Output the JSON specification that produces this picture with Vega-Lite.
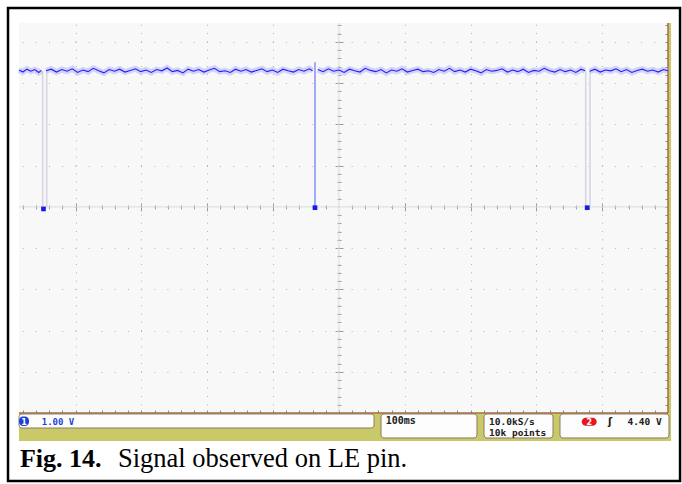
{
  "$schema": "https://vega.github.io/schema/vega-lite/v6.json",
  "width": 649,
  "height": 390,
  "autosize": "none",
  "padding": {"left": 19, "top": 23, "right": 14, "bottom": 71},
  "background": "white",
  "config": {"view": {"fill": "#f8f8f8", "stroke": null}},
  "datasets": {
    "trace": [
      {"t":-486,"v":3.32,"s":"a"},{"t":-480,"v":3.27,"s":"a"},{"t":-474,"v":3.34,"s":"a"},{"t":-468,"v":3.29,"s":"a"},{"t":-462,"v":3.33,"s":"a"},{"t":-456,"v":3.26,"s":"a"},{"t":-452,"v":3.31,"s":"a"},
      {"t":-445,"v":3.30,"s":"b"},{"t":-437,"v":3.34,"s":"b"},{"t":-429,"v":3.27,"s":"b"},{"t":-421,"v":3.33,"s":"b"},{"t":-413,"v":3.29,"s":"b"},{"t":-405,"v":3.35,"s":"b"},{"t":-397,"v":3.26,"s":"b"},{"t":-389,"v":3.32,"s":"b"},{"t":-381,"v":3.28,"s":"b"},{"t":-373,"v":3.36,"s":"b"},{"t":-365,"v":3.30,"s":"b"},{"t":-357,"v":3.25,"s":"b"},{"t":-349,"v":3.33,"s":"b"},{"t":-341,"v":3.29,"s":"b"},{"t":-333,"v":3.34,"s":"b"},{"t":-325,"v":3.27,"s":"b"},{"t":-317,"v":3.31,"s":"b"},{"t":-309,"v":3.35,"s":"b"},{"t":-301,"v":3.28,"s":"b"},{"t":-293,"v":3.32,"s":"b"},{"t":-285,"v":3.26,"s":"b"},{"t":-277,"v":3.33,"s":"b"},{"t":-269,"v":3.30,"s":"b"},{"t":-261,"v":3.37,"s":"b"},{"t":-253,"v":3.28,"s":"b"},{"t":-245,"v":3.31,"s":"b"},{"t":-237,"v":3.25,"s":"b"},{"t":-229,"v":3.34,"s":"b"},{"t":-221,"v":3.29,"s":"b"},{"t":-213,"v":3.33,"s":"b"},{"t":-205,"v":3.27,"s":"b"},{"t":-197,"v":3.32,"s":"b"},{"t":-189,"v":3.36,"s":"b"},{"t":-181,"v":3.28,"s":"b"},{"t":-173,"v":3.30,"s":"b"},{"t":-165,"v":3.26,"s":"b"},{"t":-157,"v":3.34,"s":"b"},{"t":-149,"v":3.29,"s":"b"},{"t":-141,"v":3.33,"s":"b"},{"t":-133,"v":3.27,"s":"b"},{"t":-125,"v":3.31,"s":"b"},{"t":-117,"v":3.35,"s":"b"},{"t":-109,"v":3.28,"s":"b"},{"t":-101,"v":3.32,"s":"b"},{"t":-93,"v":3.26,"s":"b"},{"t":-85,"v":3.34,"s":"b"},{"t":-77,"v":3.30,"s":"b"},{"t":-69,"v":3.27,"s":"b"},{"t":-61,"v":3.33,"s":"b"},{"t":-53,"v":3.29,"s":"b"},{"t":-45,"v":3.35,"s":"b"},{"t":-40,"v":3.30,"s":"b"},
      {"t":-32,"v":3.33,"s":"c"},{"t":-24,"v":3.28,"s":"c"},{"t":-16,"v":3.35,"s":"c"},{"t":-8,"v":3.29,"s":"c"},{"t":0,"v":3.32,"s":"c"},{"t":8,"v":3.26,"s":"c"},{"t":16,"v":3.34,"s":"c"},{"t":24,"v":3.30,"s":"c"},{"t":32,"v":3.27,"s":"c"},{"t":40,"v":3.36,"s":"c"},{"t":48,"v":3.31,"s":"c"},{"t":56,"v":3.28,"s":"c"},{"t":64,"v":3.33,"s":"c"},{"t":72,"v":3.25,"s":"c"},{"t":80,"v":3.32,"s":"c"},{"t":88,"v":3.29,"s":"c"},{"t":96,"v":3.35,"s":"c"},{"t":104,"v":3.27,"s":"c"},{"t":112,"v":3.31,"s":"c"},{"t":120,"v":3.34,"s":"c"},{"t":128,"v":3.28,"s":"c"},{"t":136,"v":3.30,"s":"c"},{"t":144,"v":3.26,"s":"c"},{"t":152,"v":3.33,"s":"c"},{"t":160,"v":3.29,"s":"c"},{"t":168,"v":3.36,"s":"c"},{"t":176,"v":3.28,"s":"c"},{"t":184,"v":3.32,"s":"c"},{"t":192,"v":3.27,"s":"c"},{"t":200,"v":3.34,"s":"c"},{"t":208,"v":3.30,"s":"c"},{"t":216,"v":3.25,"s":"c"},{"t":224,"v":3.33,"s":"c"},{"t":232,"v":3.29,"s":"c"},{"t":240,"v":3.31,"s":"c"},{"t":248,"v":3.35,"s":"c"},{"t":256,"v":3.27,"s":"c"},{"t":264,"v":3.32,"s":"c"},{"t":272,"v":3.28,"s":"c"},{"t":280,"v":3.34,"s":"c"},{"t":288,"v":3.26,"s":"c"},{"t":296,"v":3.31,"s":"c"},{"t":304,"v":3.29,"s":"c"},{"t":312,"v":3.36,"s":"c"},{"t":320,"v":3.30,"s":"c"},{"t":328,"v":3.27,"s":"c"},{"t":336,"v":3.33,"s":"c"},{"t":344,"v":3.28,"s":"c"},{"t":352,"v":3.32,"s":"c"},{"t":360,"v":3.26,"s":"c"},{"t":368,"v":3.34,"s":"c"},{"t":374,"v":3.30,"s":"c"},
      {"t":381,"v":3.29,"s":"d"},{"t":389,"v":3.34,"s":"d"},{"t":397,"v":3.27,"s":"d"},{"t":405,"v":3.32,"s":"d"},{"t":413,"v":3.30,"s":"d"},{"t":421,"v":3.35,"s":"d"},{"t":429,"v":3.28,"s":"d"},{"t":437,"v":3.33,"s":"d"},{"t":445,"v":3.26,"s":"d"},{"t":453,"v":3.31,"s":"d"},{"t":461,"v":3.34,"s":"d"},{"t":469,"v":3.29,"s":"d"},{"t":477,"v":3.32,"s":"d"},{"t":485,"v":3.27,"s":"d"},{"t":493,"v":3.33,"s":"d"},{"t":500,"v":3.30,"s":"d"}
    ],
    "edges": [
      {"t":-450.0,"hi":3.3,"lo":0,"k":"f"},{"t":-443.9,"hi":3.3,"lo":0,"k":"f"},
      {"t":-36.3,"hi":3.51,"lo":0,"k":"b"},
      {"t":375.0,"hi":3.3,"lo":0,"k":"f"},{"t":381.5,"hi":3.3,"lo":0,"k":"f"}
    ],
    "dips": [
      {"t":-448.8,"v":-0.05},{"t":-36.3,"v":-0.02},{"t":377.2,"v":-0.02}
    ]
  },
  "data": {"values": [{}]},
  "layer": [
    {
      "mark": {"type": "rect", "fillOpacity": 0, "stroke": "#000000", "strokeWidth": 2.5},
      "encoding": {
        "x": {"datum": -502.7, "type": "quantitative", "scale": {"domain": [-486, 500], "nice": false, "zero": false}, "axis": null},
        "x2": {"datum": 518.3},
        "y": {"datum": 4.824, "type": "quantitative", "scale": {"domain": [-5, 4.46], "nice": false, "zero": false}, "axis": null},
        "y2": {"datum": -6.649}
      }
    },
    {
      "mark": {"type": "rect", "fill": "#c9c96a"},
      "encoding": {
        "x": {"datum": -486, "type": "quantitative", "axis": null},
        "x2": {"datum": 504.6},
        "y": {"datum": -5, "type": "quantitative", "axis": null},
        "y2": {"datum": -5.679}
      }
    },
    {
      "mark": {"type": "rect", "fill": "#c9c96a"},
      "encoding": {
        "x": {"datum": 500, "type": "quantitative", "axis": null},
        "x2": {"datum": 504.6},
        "y": {"datum": 4.46, "type": "quantitative", "axis": null},
        "y2": {"datum": -5.679}
      }
    },
    {
      "mark": {"type": "rule", "color": "#dcdcdc", "strokeWidth": 1},
      "encoding": {
        "x": {"datum": 0, "type": "quantitative", "axis": {
          "orient": "bottom", "title": null, "domain": false, "labels": false,
          "values": [-480,-460,-440,-420,-400,-380,-360,-340,-320,-300,-280,-260,-240,-220,-200,-180,-160,-140,-120,-100,-80,-60,-40,-20,0,20,40,60,80,100,120,140,160,180,200,220,240,260,280,300,320,340,360,380,400,420,440,460,480,500],
          "ticks": true, "tickSize": -3, "tickColor": "#8a8a8a", "tickWidth": 1,
          "grid": true, "gridColor": "#b4b4b4", "gridWidth": 1, "gridDash": [1, 7.25],
          "gridOpacity": {"condition": {"test": "datum.value % 100 === 0", "value": 1}, "value": 0}
        }}
      }
    },
    {
      "mark": {"type": "rule", "color": "#dcdcdc", "strokeWidth": 1},
      "encoding": {
        "y": {"datum": 0, "type": "quantitative", "axis": {
          "orient": "right", "title": null, "domain": false, "labels": false,
          "values": [-5,-4.8,-4.6,-4.4,-4.2,-4,-3.8,-3.6,-3.4,-3.2,-3,-2.8,-2.6,-2.4,-2.2,-2,-1.8,-1.6,-1.4,-1.2,-1,-0.8,-0.6,-0.4,-0.2,0,0.2,0.4,0.6,0.8,1,1.2,1.4,1.6,1.8,2,2.2,2.4,2.6,2.8,3,3.2,3.4,3.6,3.8,4,4.2,4.4],
          "ticks": true, "tickSize": -3, "tickColor": "#8a8a8a", "tickWidth": 1,
          "grid": true, "gridColor": "#b4b4b4", "gridWidth": 1, "gridDash": [1, 12.16],
          "gridOpacity": {"condition": {"test": "abs(datum.value - round(datum.value)) < 0.01", "value": 1}, "value": 0}
        }}
      }
    },
    {
      "mark": {"type": "rule", "strokeOpacity": 0},
      "encoding": {
        "x": {"datum": 0, "type": "quantitative", "axis": {
          "orient": "bottom", "title": null, "domain": false, "labels": false, "grid": false, "offset": -204.1,
          "values": [-480,-460,-440,-420,-400,-380,-360,-340,-320,-300,-280,-260,-240,-220,-200,-180,-160,-140,-120,-100,-80,-60,-40,-20,20,40,60,80,100,120,140,160,180,200,220,240,260,280,300,320,340,360,380,400,420,440,460,480],
          "tickSize": -4, "tickColor": "#9a9ab4", "tickWidth": 1
        }}
      }
    },
    {
      "mark": {"type": "rule", "strokeOpacity": 0},
      "encoding": {
        "x": {"datum": 0, "type": "quantitative", "axis": {
          "orient": "bottom", "title": null, "domain": false, "labels": false, "grid": false, "offset": -202.1,
          "values": [-400,-300,-200,-100,100,200,300,400],
          "tickSize": -8, "tickColor": "#9a9ab4", "tickWidth": 1
        }}
      }
    },
    {
      "mark": {"type": "rule", "strokeOpacity": 0},
      "encoding": {
        "y": {"datum": 0, "type": "quantitative", "axis": {
          "orient": "left", "title": null, "domain": false, "labels": false, "grid": false, "offset": -322,
          "values": [-4.8,-4.6,-4.4,-4.2,-4,-3.8,-3.6,-3.4,-3.2,-3,-2.8,-2.6,-2.4,-2.2,-2,-1.8,-1.6,-1.4,-1.2,-1,-0.8,-0.6,-0.4,-0.2,0.2,0.4,0.6,0.8,1,1.2,1.4,1.6,1.8,2,2.2,2.4,2.6,2.8,3,3.2,3.4,3.6,3.8,4,4.2,4.4],
          "tickSize": 4, "tickColor": "#9a9ab4", "tickWidth": 1
        }}
      }
    },
    {
      "mark": {"type": "rule", "strokeOpacity": 0},
      "encoding": {
        "y": {"datum": 0, "type": "quantitative", "axis": {
          "orient": "left", "title": null, "domain": false, "labels": false, "grid": false, "offset": -324,
          "values": [-4,-3,-2,-1,1,2,3,4],
          "tickSize": 8, "tickColor": "#9a9ab4", "tickWidth": 1
        }}
      }
    },
    {
      "mark": {"type": "rule", "color": "#a86e40", "strokeWidth": 1.5},
      "encoding": {
        "x": {"datum": 500, "type": "quantitative", "axis": null},
        "y": {"datum": 4.46, "type": "quantitative", "axis": null},
        "y2": {"datum": -5}
      }
    },
    {
      "mark": {"type": "rule", "color": "#a86e40", "strokeWidth": 1.5},
      "encoding": {
        "x": {"datum": -486, "type": "quantitative", "axis": null},
        "x2": {"datum": 500},
        "y": {"datum": -5, "type": "quantitative", "axis": null}
      }
    },
    {
      "mark": {"type": "rect", "fill": "#fdfdfd", "stroke": "#8c7a66", "strokeWidth": 1, "cornerRadius": 3},
      "encoding": {
        "x": {"datum": -486, "type": "quantitative", "axis": null},
        "x2": {"datum": 53.4},
        "y": {"datum": -5.024, "type": "quantitative", "axis": null},
        "y2": {"datum": -5.364}
      }
    },
    {
      "mark": {"type": "rect", "fill": "#fdfdfd", "stroke": "#8c7a66", "strokeWidth": 1, "cornerRadius": 3},
      "encoding": {
        "x": {"datum": 64.0, "type": "quantitative", "axis": null},
        "x2": {"datum": 209.8},
        "y": {"datum": -5.024, "type": "quantitative", "axis": null},
        "y2": {"datum": -5.606}
      }
    },
    {
      "mark": {"type": "rect", "fill": "#fdfdfd", "stroke": "#8c7a66", "strokeWidth": 1, "cornerRadius": 3},
      "encoding": {
        "x": {"datum": 220.5, "type": "quantitative", "axis": null},
        "x2": {"datum": 325.3},
        "y": {"datum": -5.024, "type": "quantitative", "axis": null},
        "y2": {"datum": -5.606}
      }
    },
    {
      "mark": {"type": "rect", "fill": "#fdfdfd", "stroke": "#8c7a66", "strokeWidth": 1, "cornerRadius": 3},
      "encoding": {
        "x": {"datum": 335.9, "type": "quantitative", "axis": null},
        "x2": {"datum": 501.5},
        "y": {"datum": -5.024, "type": "quantitative", "axis": null},
        "y2": {"datum": -5.606}
      }
    },
    {
      "mark": {"type": "rect", "fill": "#1f3fd8", "cornerRadius": 4},
      "encoding": {
        "x": {"datum": -486, "type": "quantitative", "axis": null},
        "x2": {"datum": -470.8},
        "y": {"datum": -5.085, "type": "quantitative", "axis": null},
        "y2": {"datum": -5.315}
      }
    },
    {
      "mark": {"type": "text", "text": "1", "color": "white", "font": "DejaVu Sans", "fontWeight": "bold", "fontSize": 8, "align": "center", "baseline": "alphabetic"},
      "encoding": {
        "x": {"datum": -478.4, "type": "quantitative", "axis": null},
        "y": {"datum": -5.279, "type": "quantitative", "axis": null}
      }
    },
    {
      "mark": {"type": "text", "text": "1.00 V", "color": "#1f3fd8", "font": "DejaVu Sans Mono", "fontWeight": "bold", "fontSize": 9, "align": "left", "baseline": "alphabetic"},
      "encoding": {
        "x": {"datum": -451.5, "type": "quantitative", "axis": null},
        "y": {"datum": -5.279, "type": "quantitative", "axis": null}
      }
    },
    {
      "mark": {"type": "text", "text": "100ms", "color": "#202020", "font": "DejaVu Sans Mono", "fontWeight": "bold", "fontSize": 10, "align": "left", "baseline": "alphabetic"},
      "encoding": {
        "x": {"datum": 71.1, "type": "quantitative", "axis": null},
        "y": {"datum": -5.273, "type": "quantitative", "axis": null}
      }
    },
    {
      "mark": {"type": "text", "text": "10.0kS/s", "color": "#202020", "font": "DejaVu Sans Mono", "fontWeight": "bold", "fontSize": 9.5, "align": "left", "baseline": "alphabetic"},
      "encoding": {
        "x": {"datum": 228.1, "type": "quantitative", "axis": null},
        "y": {"datum": -5.291, "type": "quantitative", "axis": null}
      }
    },
    {
      "mark": {"type": "text", "text": "10k points", "color": "#202020", "font": "DejaVu Sans Mono", "fontWeight": "bold", "fontSize": 9.5, "align": "left", "baseline": "alphabetic"},
      "encoding": {
        "x": {"datum": 228.1, "type": "quantitative", "axis": null},
        "y": {"datum": -5.546, "type": "quantitative", "axis": null}
      }
    },
    {
      "mark": {"type": "rect", "fill": "#e8141e", "cornerRadius": 4},
      "encoding": {
        "x": {"datum": 368.9, "type": "quantitative", "axis": null},
        "x2": {"datum": 391.7},
        "y": {"datum": -5.114, "type": "quantitative", "axis": null},
        "y2": {"datum": -5.308}
      }
    },
    {
      "mark": {"type": "text", "text": "2", "color": "white", "font": "DejaVu Sans", "fontWeight": "bold", "fontSize": 8, "align": "center", "baseline": "alphabetic"},
      "encoding": {
        "x": {"datum": 380.3, "type": "quantitative", "axis": null},
        "y": {"datum": -5.279, "type": "quantitative", "axis": null}
      }
    },
    {
      "mark": {"type": "text", "text": "ʃ", "color": "#202020", "font": "DejaVu Sans", "fontWeight": "bold", "fontSize": 10, "align": "center", "baseline": "alphabetic"},
      "encoding": {
        "x": {"datum": 411.9, "type": "quantitative", "axis": null},
        "y": {"datum": -5.291, "type": "quantitative", "axis": null}
      }
    },
    {
      "mark": {"type": "text", "text": "4.40 V", "color": "#202020", "font": "DejaVu Sans Mono", "fontWeight": "bold", "fontSize": 9.5, "align": "right", "baseline": "alphabetic"},
      "encoding": {
        "x": {"datum": 490.5, "type": "quantitative", "axis": null},
        "y": {"datum": -5.279, "type": "quantitative", "axis": null}
      }
    },
    {
      "data": {"name": "edges"},
      "mark": {"type": "rule", "strokeWidth": 1.6},
      "encoding": {
        "x": {"field": "t", "type": "quantitative", "axis": null},
        "y": {"field": "hi", "type": "quantitative", "axis": null},
        "y2": {"field": "lo"},
        "color": {"condition": {"test": "datum.k === 'f'", "value": "#d6d6e0"}, "value": "#8c94ff"}
      }
    },
    {
      "data": {"name": "trace"},
      "mark": {"type": "line", "color": "#a4a4ff", "strokeWidth": 6, "opacity": 0.45, "interpolate": "linear"},
      "encoding": {
        "x": {"field": "t", "type": "quantitative", "axis": null},
        "y": {"field": "v", "type": "quantitative", "axis": null},
        "detail": {"field": "s"}
      }
    },
    {
      "data": {"name": "trace"},
      "mark": {"type": "line", "color": "#2020f4", "strokeWidth": 1.1, "interpolate": "linear"},
      "encoding": {
        "x": {"field": "t", "type": "quantitative", "axis": null},
        "y": {"field": "v", "type": "quantitative", "axis": null},
        "detail": {"field": "s"}
      }
    },
    {
      "data": {"name": "dips"},
      "mark": {"type": "square", "color": "#1a1ae8", "size": 22, "opacity": 1, "filled": true},
      "encoding": {
        "x": {"field": "t", "type": "quantitative", "axis": null},
        "y": {"field": "v", "type": "quantitative", "axis": null}
      }
    },
    {
      "mark": {"type": "text", "text": "Fig. 14.", "color": "#000000", "font": "Liberation Serif", "fontWeight": "bold", "fontSize": 26, "align": "left", "baseline": "alphabetic"},
      "encoding": {
        "x": {"datum": -484.5, "type": "quantitative", "axis": null},
        "y": {"datum": -6.31, "type": "quantitative", "axis": null}
      }
    },
    {
      "mark": {"type": "text", "text": "Signal observed on LE pin.", "color": "#000000", "font": "Liberation Serif", "fontSize": 26.5, "align": "left", "baseline": "alphabetic"},
      "encoding": {
        "x": {"datum": -335.6, "type": "quantitative", "axis": null},
        "y": {"datum": -6.31, "type": "quantitative", "axis": null}
      }
    }
  ],
  "resolve": {"axis": {"x": "independent", "y": "independent"}}
}
